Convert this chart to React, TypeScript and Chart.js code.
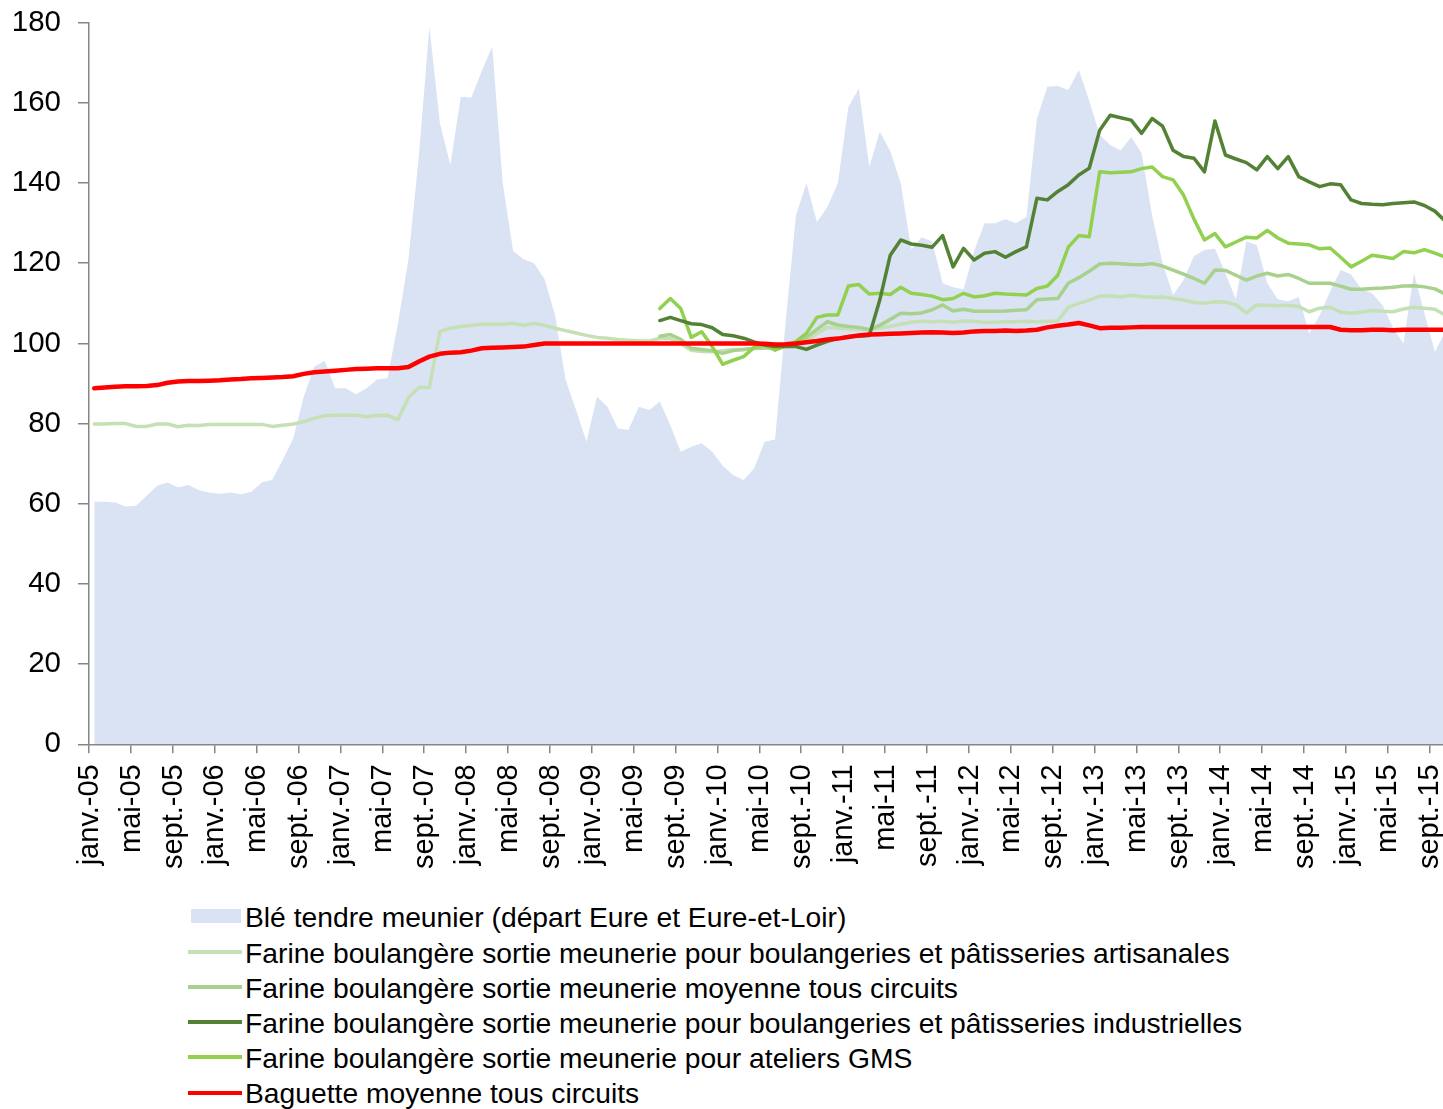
import React, { useEffect, useRef } from "react";
import { Chart, registerables } from "chart.js";

Chart.register(...registerables);

const FONT = "'Liberation Sans', Arial, sans-serif";

const MONTH_NAMES = ["janv.", "févr.", "mars", "avr.", "mai", "juin", "juil.", "août", "sept.", "oct.", "nov.", "déc."];
const YEARS = ["05", "06", "07", "08", "09", "10", "11", "12", "13", "14", "15"];
const LAST_MONTH_COUNT = 130; // janv.-05 .. oct.-15

const CATEGORIES: string[] = [];
for (const y of YEARS) for (const m of MONTH_NAMES) CATEGORIES.push(`${m}-${y}`);
const LABELS = CATEGORIES.slice(0, LAST_MONTH_COUNT);

const SERIES_NAMES = [
  "Blé tendre meunier (départ Eure et Eure-et-Loir)",
  "Farine boulangère sortie meunerie pour boulangeries et pâtisseries artisanales",
  "Farine boulangère sortie meunerie moyenne tous circuits",
  "Farine boulangère sortie meunerie pour boulangeries et pâtisseries industrielles",
  "Farine boulangère sortie meunerie pour ateliers GMS",
  "Baguette moyenne tous circuits",
];

const COLORS = ["#dae3f3", "#c5e0b4", "#a9d18e", "#548235", "#92d050", "#ff0000"];

const BLE = [
  60.5, 60.5, 60.3, 59.3, 59.5, 62, 64.5, 65.3, 64.1, 64.7, 63.4, 62.8,
  62.5, 62.8, 62.4, 63.0, 65.3, 66.0, 71.0, 76.3, 86.7, 94.2, 95.7, 88.8,
  88.8, 87.3, 88.8, 91.0, 91.3, 105, 121, 147, 179, 155, 144.5, 161.5,
  161.3, 168, 174, 140, 123, 121, 120, 116, 107, 91, 83.4, 75.5,
  86.7, 84.2, 78.8, 78.4, 84.2, 83.4, 85.5, 79.6, 73, 74.2, 75.1, 73,
  69.5, 67.2, 65.9, 68.8, 75.5, 76, 105, 132, 140, 130.3, 134, 140,
  159, 163.6, 144, 152.8, 148, 140, 123.5, 126.5, 125.4, 115, 114, 113.5,
  123, 130, 130, 131, 130, 131.6, 156, 164, 164.2, 163.2, 168.2, 160.5,
  152, 149.5, 148.2, 151.5, 147.5, 132, 120, 112.1, 115.8, 121.8, 123.3, 123.7,
  117.5, 111, 125.5, 124.5, 115, 111, 110.5, 111.6, 102.5, 107, 113, 118.3,
  117.2, 113.5, 112.5, 109.5, 104, 100, 117.5, 107.5, 97.9, 103,
];

const ARTISANALES = [
  79.9, 79.9, 80, 80, 79.3, 79.3, 79.9, 79.9, 79.2, 79.6, 79.5, 79.8,
  79.8, 79.8, 79.8, 79.8, 79.8, 79.3, 79.6, 79.9, 80.5, 81.3, 82, 82.1,
  82.1, 82.1, 81.7, 82, 82.1, 81, 86.5, 89, 89, 103, 103.8, 104.2,
  104.5, 104.8, 104.8, 104.8, 105, 104.5, 105, 104.5, 103.8, 103.2, 102.6, 102,
  101.5, 101.3, 101, 100.8, 100.6, 100.6, 101.3, 101.2, 100, 98.3, 98, 97.9,
  98.2, 98.5, 98.5, 98.7, 98.8, 99, 99.3, 99.6, 100.5, 102.5, 104, 103.8,
  103.6, 103.5, 103.5, 103.8, 104.3, 104.8, 105.3, 105.5, 105.4, 105.5, 105.3, 105.6,
  105.5, 105.2, 105.3, 105.4, 105.4, 105.5, 105.4, 105.5, 105.6, 109, 110, 110.8,
  111.8, 111.8, 111.6, 112, 111.7, 111.5, 111.6, 111.2, 110.8, 110.2, 110, 110.4,
  110.3, 109.6, 107.6, 109.6, 109.5, 109.4, 109.5, 109.2, 107.9, 108.8, 109, 107.8,
  107.5, 107.8, 108.2, 108, 107.9, 108.6, 109, 108.8, 108.5, 107,
];

// The three series below start in juil.-09 (index 54)
const LATE_START = 54;

const MOYENNE = [
  101.8, 102.2, 101, 98.8, 98.5, 98.2, 97.5, 98.2, 98.5, 98.8, 98.9, 99,
  99.3, 99.6, 101.5, 103.5, 105.4, 104.6, 104.2, 104, 103.4, 104.5, 106, 107.5,
  107.4, 107.6, 108.4, 109.6, 108.1, 108.5, 108, 108, 108, 108.1, 108.3, 108.4,
  110.9, 111.1, 111.2, 115, 116.4, 118, 119.8, 120, 119.9, 119.7, 119.6, 119.9,
  119.3, 118.3, 117.3, 116.2, 115, 118.3, 118.2, 117, 115.8, 116.8, 117.5, 116.8,
  117.2, 116.2, 115, 115, 115, 114.3, 113.5, 113.5, 113.7, 113.8, 114, 114.3,
  114.4, 114.1, 113.6, 112.3,
];

const INDUSTRIELLES = [
  105.7, 106.5, 105.7, 104.9, 104.7, 103.9, 102.2, 101.9, 101.3, 100.4, 99.6, 99.2,
  99.2, 99.2, 98.5, 99.6, 100.5, 101.2, 101.7, 101.8, 102, 110.8, 122, 125.8,
  124.8, 124.5, 124, 126.9, 119.1, 123.7, 120.8, 122.5, 122.9, 121.5, 122.9, 124.1,
  136.2, 135.8, 137.9, 139.6, 142, 143.7, 153.2, 156.9, 156.3, 155.7, 152.4, 156.1,
  154.2, 148.2, 146.6, 146.2, 142.8, 155.5, 147, 146, 145.1, 143.3, 146.6, 143.6,
  146.6, 141.6, 140.3, 139.1, 139.8, 139.6, 135.8, 134.9, 134.7, 134.6, 134.9, 135.1,
  135.3, 134.4, 133, 130.5,
];

const GMS = [
  108.7, 111.2, 108.7, 101.5, 102.9, 99.2, 94.8, 95.8, 96.7, 99, 99.7, 98.3,
  99.3, 100.5, 102.5, 106.5, 107.1, 107.1, 114.3, 114.7, 112.3, 112.5, 112.2, 114,
  112.5, 112.2, 111.8, 110.9, 111.2, 112.5, 111.6, 111.9, 112.5, 112.3, 112.2, 112.1,
  113.7, 114.3, 117, 124, 126.9, 126.6, 142.8, 142.6, 142.7, 142.8, 143.6, 144,
  141.6, 140.8, 137, 131, 125.8, 127.4, 124.1, 125.3, 126.5, 126.3, 128.2, 126.3,
  125, 124.8, 124.6, 123.6, 123.8, 121.5, 119.1, 120.5, 122, 121.6, 121.2, 122.9,
  122.6, 123.4, 122.5, 121.5,
];

const BAGUETTE = [
  88.8, 89.0, 89.2, 89.3, 89.3, 89.4, 89.6, 90.2, 90.5, 90.6, 90.6, 90.7,
  90.8, 91.0, 91.1, 91.3, 91.4, 91.5, 91.6, 91.8, 92.4, 92.8, 93.0, 93.2,
  93.4, 93.6, 93.7, 93.8, 93.8, 93.8, 94.1, 95.5, 96.7, 97.4, 97.7, 97.8,
  98.2, 98.8, 98.9, 99.0, 99.1, 99.2, 99.6, 100.0, 100.0, 100.0, 100.0, 100.0,
  100.0, 100.0, 100.0, 100.0, 100.0, 100.0, 100.0, 100.0, 100.0, 100.0, 100.0, 100.0,
  100.0, 100.0, 100.0, 100.0, 99.9, 99.7, 99.8, 100.0, 100.3, 100.6, 101.0, 101.2,
  101.6, 102.0, 102.2, 102.3, 102.4, 102.5, 102.6, 102.7, 102.8, 102.7, 102.6, 102.7,
  103.0, 103.1, 103.1, 103.2, 103.1, 103.2, 103.4, 104.0, 104.4, 104.7, 105.1, 104.5,
  103.8, 103.9, 103.9, 104.0, 104.1, 104.1, 104.1, 104.1, 104.1, 104.1, 104.1, 104.1,
  104.1, 104.1, 104.1, 104.1, 104.1, 104.1, 104.1, 104.1, 104.1, 104.1, 104.1, 103.4,
  103.3, 103.3, 103.4, 103.4, 103.3, 103.4, 103.4, 103.4, 103.4, 103.4,
];

const Y_MIN = 0;
const Y_MAX = 180;
const Y_STEP = 20;
const TICK_EVERY = 4;

const CANVAS_W = 1452;
const CANVAS_H = 890;
const PLOT_LEFT = 89;
const PLOT_RIGHT = 1450.6;
const PLOT_TOP = 22.7;
const PLOT_BOTTOM = 744.3;

function lateSeries(values: number[]) {
  const out: (number | null)[] = [];
  for (let i = 0; i < LATE_START; i++) out.push(null);
  return out.concat(values);
}

export default function App() {
  const ref = useRef<HTMLCanvasElement>(null);

  useEffect(() => {
    if (!ref.current) return;
    const gray = "#868686";
    const tickCol = (c: any) => (c.index % TICK_EVERY === 0 ? gray : "rgba(0,0,0,0)");
    const line = (label: string, data: any[], color: string, width: number, order: number) => ({
      label,
      data,
      borderColor: color,
      backgroundColor: color,
      borderWidth: width,
      pointRadius: 0,
      tension: 0,
      fill: false,
      order,
      borderJoinStyle: "round" as const,
      borderCapStyle: "round" as const,
    });
    const chart = new Chart(ref.current, {
      type: "line",
      data: {
        labels: LABELS,
        datasets: [
          line(SERIES_NAMES[5], BAGUETTE, COLORS[5], 4.5, 0),
          line(SERIES_NAMES[3], lateSeries(INDUSTRIELLES), COLORS[3], 3.5, 1),
          line(SERIES_NAMES[4], lateSeries(GMS), COLORS[4], 3.5, 2),
          line(SERIES_NAMES[2], lateSeries(MOYENNE), COLORS[2], 3.5, 3),
          line(SERIES_NAMES[1], ARTISANALES, COLORS[1], 3.5, 4),
          {
            label: SERIES_NAMES[0],
            data: BLE,
            borderColor: "rgba(0,0,0,0)",
            backgroundColor: COLORS[0],
            borderWidth: 0,
            pointRadius: 0,
            tension: 0,
            fill: "origin",
            order: 5,
          },
        ],
      },
      options: {
        animation: false,
        responsive: false,
        devicePixelRatio: 1,
        layout: { padding: { top: PLOT_TOP, left: 0, right: CANVAS_W - PLOT_RIGHT, bottom: 0 } },
        plugins: { legend: { display: false }, tooltip: { enabled: false }, title: { display: false } },
        scales: {
          x: {
            type: "category",
            offset: true,
            grid: {
              offset: true,
              drawOnChartArea: false,
              drawTicks: true,
              tickLength: 9,
              color: tickCol,
              tickColor: tickCol,
              lineWidth: 1.5,
              tickWidth: 1.5,
            },
            border: { display: true, color: gray, width: 1.5 },
            ticks: {
              autoSkip: false,
              minRotation: 90,
              maxRotation: 90,
              padding: 11,
              labelOffset: -4.5,
              color: "#000",
              font: { family: FONT, size: 29 },
              callback: (_v: any, i: number) => (i % TICK_EVERY === 0 ? LABELS[i] : ""),
            },
            afterFit: (s: any) => {
              s.height = CANVAS_H - PLOT_BOTTOM;
              s.paddingLeft = 0;
              s.paddingRight = 0;
            },
          },
          y: {
            min: Y_MIN,
            max: Y_MAX,
            grid: { drawOnChartArea: false, drawTicks: true, tickLength: 11, color: gray, lineWidth: 1.5 },
            border: { display: true, color: gray, width: 1.5 },
            ticks: { stepSize: Y_STEP, padding: 17, color: "#000", font: { family: FONT, size: 29.5 } },
            afterFit: (s: any) => {
              s.width = PLOT_LEFT;
              s.paddingTop = 0;
              s.paddingBottom = 0;
            },
          },
        },
      },
    });
    return () => chart.destroy();
  }, []);

  const rows = SERIES_NAMES.map((name, i) => ({ name, color: COLORS[i], baseline: 927 + i * 35.2 }));

  return (
    <div style={{ position: "absolute", left: 0, top: 0, width: 1443, height: 1109, overflow: "hidden", background: "#fff" }}>
      <canvas ref={ref} width={CANVAS_W} height={CANVAS_H} style={{ display: "block", width: CANVAS_W, height: CANVAS_H }} />
      {rows.map((r, i) => (
        <React.Fragment key={i}>
          {i === 0 ? (
            <div style={{ position: "absolute", left: 191, top: r.baseline - 18, width: 50, height: 14, background: r.color }} />
          ) : (
            <div style={{ position: "absolute", left: 188, top: r.baseline - 12.5, width: 54, height: 4, background: r.color }} />
          )}
          <div
            style={{
              position: "absolute",
              left: 245,
              top: r.baseline - 25.7,
              fontFamily: FONT,
              fontSize: 28.25,
              lineHeight: "32px",
              whiteSpace: "nowrap",
              color: "#000",
            }}
          >
            {r.name}
          </div>
        </React.Fragment>
      ))}
    </div>
  );
}
